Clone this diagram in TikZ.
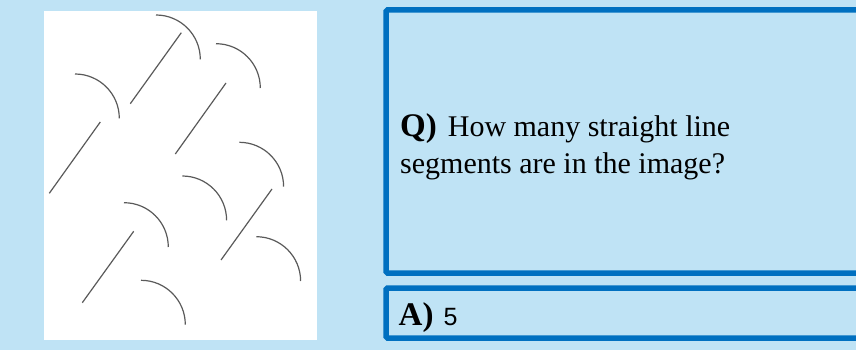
\documentclass[tikz,border=0pt]{standalone}
\usepackage{fontspec}
\setmainfont{Liberation Serif}
\newfontfamily\answerfont{Liberation Sans}
\definecolor{bgblue}{HTML}{BFE3F5}
\definecolor{boxblue}{HTML}{0070C0}
\definecolor{inkgray}{HTML}{5A5A5A}
\begin{document}
\begin{tikzpicture}[x=1pt,y=-1pt,
  panelbox/.style={draw=boxblue,line width=5.5pt,rounded corners=1.5pt},
  stroke/.style={draw=inkgray,line width=1.2pt},
  qtext/.style={anchor=base west,inner sep=0pt,font=\fontsize{30}{36}\selectfont},
  atext/.style={anchor=base west,inner sep=0pt,font=\fontsize{30}{36}\selectfont}]
\useasboundingbox (0,0) rectangle (856,350);
\clip (0,0) rectangle (856,350);
\fill[bgblue] (0,0) rectangle (856,350);
% white image panel
\fill[white] (44,11) rectangle (317,340);
% arcs (quarter circles, radius 44.3)
\foreach \sx/\sy in {156/15, 216/43.7, 75/74, 239.3/142.3, 182.3/176, 124/202.7, 256.3/236.7, 141/280.3}
  \draw[stroke] (\sx,\sy) arc[start angle=-90,end angle=0,radius=44.3];
% straight segments
\draw[stroke] (181.3,32.7) -- (130.3,103.7);
\draw[stroke] (226,83) -- (175.3,154);
\draw[stroke] (100.3,122) -- (49.3,193.3);
\draw[stroke] (133.7,231.3) -- (82.3,302.7);
\draw[stroke] (272,189) -- (221,260);
% question and answer boxes
\draw[panelbox] (386,10) rectangle (880,273);
\draw[panelbox] (386,288) rectangle (880,338);
\node[qtext] (q1) at (400,136.7) {\textbf{\fontsize{33}{36}\selectfont Q)}\hspace{11pt}How many straight line};
\node[qtext] (q2) at (400,173.3) {segments are in the image?};
\node[atext] (a1) at (398.5,325) {\textbf{\fontsize{33}{36}\selectfont A)}\hspace{10pt}{\answerfont\fontsize{25}{28}\selectfont 5}};
\end{tikzpicture}
\end{document}
